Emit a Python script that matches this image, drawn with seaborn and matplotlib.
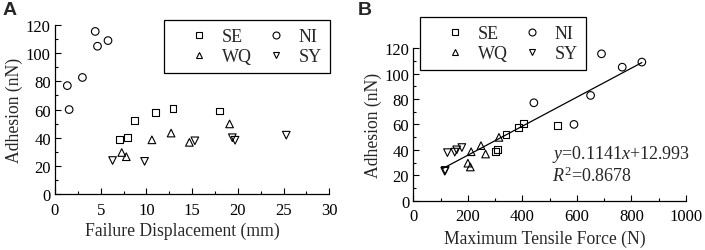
import numpy as np
import pandas as pd
import matplotlib
matplotlib.use("Agg")
import matplotlib.pyplot as plt
from matplotlib.lines import Line2D
from matplotlib.legend_handler import HandlerLine2D
from matplotlib.ticker import MultipleLocator
import seaborn as sns

# ---- data ----
groups = ["SE", "NI", "WQ", "SY"]
markers = {"SE": "s", "NI": "o", "WQ": "^", "SY": "v"}

se_disp = [7.1, 7.9, 8.7, 11.0, 12.9, 18.0]
se_force = [300, 308, 340, 386, 403, 528]
se_adh = [39.0, 40.0, 52.0, 57.8, 61.0, 59.0]

ni_disp = [1.35, 1.55, 3.0, 4.4, 4.65, 5.8]
ni_force = [442, 589, 650, 690, 766, 838]
ni_adh = [77.0, 60.0, 82.8, 115.5, 105.0, 109.0]

wq_disp = [7.3, 7.8, 10.6, 12.7, 14.7, 19.1]
wq_force = [200, 209, 212, 248, 265, 314]
wq_adh = [29.5, 26.5, 38.5, 43.3, 36.7, 49.8]

sy_disp = [6.3, 9.8, 15.3, 19.4, 19.7, 25.3]
sy_force = [117, 115, 125, 159, 152, 178]
sy_adh = [23.8, 23.2, 37.8, 40.0, 38.2, 41.8]

fit_slope = 0.1141
fit_intercept = 12.993

rows = []
for g, d, f, a in [("SE", se_disp, se_force, se_adh), ("NI", ni_disp, ni_force, ni_adh),
                   ("WQ", wq_disp, wq_force, wq_adh), ("SY", sy_disp, sy_force, sy_adh)]:
    for di, fi, ai in zip(d, f, a):
        rows.append({"group": g, "disp": di, "force": fi, "adh": ai})
df = pd.DataFrame(rows)

sns.set_theme(style="ticks")
plt.rcParams["font.family"] = ["Liberation Serif", "DejaVu Serif"]
plt.rcParams["mathtext.fontset"] = "custom"
plt.rcParams["mathtext.rm"] = "Liberation Serif"
plt.rcParams["mathtext.it"] = "Liberation Serif:italic"

fig = plt.figure(figsize=(7.05, 2.51), dpi=100)
axA = fig.add_axes([0.078, 0.223, 0.389, 0.673])
axB = fig.add_axes([0.5863, 0.1964, 0.3868, 0.608])

TICK = 12
LAB = 12.7

def draw(ax, xcol, xpad):
    for g in groups:
        sub = df[df.group == g]
        sns.scatterplot(data=sub, x=xcol, y="adh", marker=markers[g],
                        s=24 if g == "SE" else 30,
                        facecolor="none", edgecolor="black", linewidth=0.8,
                        ax=ax, legend=False)
    for coll in ax.collections:
        coll.set_facecolor("none")
        coll.set_edgecolor("black")
    for s in ["top", "right"]:
        ax.spines[s].set_visible(False)
    for s in ["left", "bottom"]:
        ax.spines[s].set_linewidth(0.9)
        ax.spines[s].set_color("black")
    ax.tick_params(which="both", direction="in", labelsize=TICK, colors="black", width=0.8)
    ax.tick_params(axis="y", pad=3)
    ax.tick_params(axis="x", pad=xpad)
    ax.tick_params(which="major", length=4)
    ax.tick_params(which="minor", length=2.5)
    ax.set_ylim(0, 120)
    ax.yaxis.set_major_locator(MultipleLocator(20))
    ax.yaxis.set_minor_locator(MultipleLocator(10))
    ax.set_ylabel("Adhesion (nN)", fontsize=LAB, labelpad=2)
    ax.set_facecolor("white")

draw(axA, "disp", 5.5)
axA.set_xlim(0, 30)
axA.xaxis.set_major_locator(MultipleLocator(5))
axA.xaxis.set_minor_locator(MultipleLocator(2.5))
axA.set_xlabel("Failure Displacement (mm)", fontsize=LAB, labelpad=3)
axA.xaxis.label.set_x(0.465)

draw(axB, "force", 5)
axB.set_xlim(0, 1000)
axB.xaxis.set_major_locator(MultipleLocator(200))
axB.xaxis.set_minor_locator(MultipleLocator(100))
axB.set_xlabel("Maximum Tensile Force (N)", fontsize=LAB, labelpad=4.5)
axB.xaxis.label.set_x(0.482)

xs = np.array([df.force.min() - 8, df.force.max()])
sns.lineplot(x=xs, y=fit_slope * xs + fit_intercept, color="black", linewidth=0.9, ax=axB)
axB.text(0.5075, 0.28, r"$y$=0.1141$x$+12.993", transform=axB.transAxes, fontsize=13, va="baseline")
axB.text(0.5075, 0.128, r"$R^2$=0.8678", transform=axB.transAxes, fontsize=13, va="baseline")


class RightMarker(HandlerLine2D):
    # the single legend marker sits in the middle of xdata; move it toward the label
    def get_xdata(self, legend, xdescent, ydescent, width, height, fontsize):
        return [-xdescent + 0.66 * width, -xdescent + width], [-xdescent + 0.83 * width]


handles = [Line2D([], [], marker=markers[g], linestyle="none", markerfacecolor="none",
                  markeredgecolor="black", markersize=4.5 if g == "SE" else 5,
                  markeredgewidth=0.8) for g in ["SE", "WQ", "NI", "SY"]]
labels = ["SE", "WQ", "NI", "SY"]


def legend(ax, bbox):
    leg = ax.legend(handles, labels, ncol=2, loc="upper left", bbox_to_anchor=bbox,
                    bbox_transform=fig.transFigure, frameon=True, fancybox=False,
                    fontsize=13, handletextpad=0.97, columnspacing=-0.1,
                    borderpad=0.45, labelspacing=0.17, handlelength=1.75, borderaxespad=0,
                    handler_map={Line2D: RightMarker()})
    fr = leg.get_frame()
    fr.set_edgecolor("black")
    fr.set_linewidth(0.9)
    fr.set_alpha(1)
    return leg

legend(axA, (164.3 / 705, 1 - 21 / 251))
legend(axB, (420.3 / 705, 1 - 17.7 / 251))

fig.text(3 / 705, 1 - 2 / 251, "A", fontsize=14, fontweight="bold", family="Liberation Sans", va="top")
fig.text(358 / 705, 1 - 2 / 251, "B", fontsize=14, fontweight="bold", family="Liberation Sans", va="top")

fig.savefig("out.png", dpi=100, facecolor="white")
